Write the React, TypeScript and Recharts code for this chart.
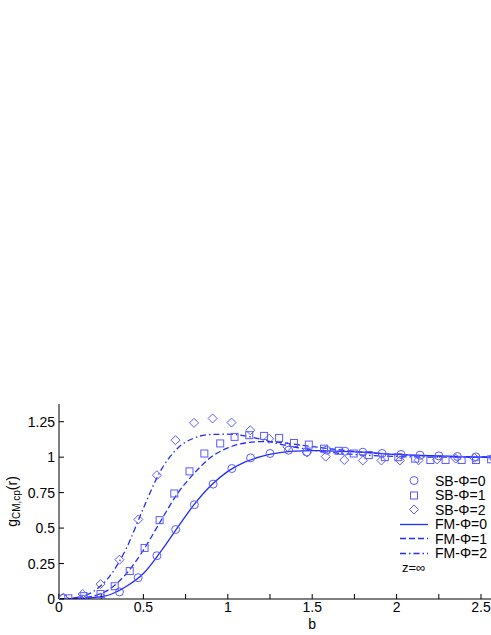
import { ComposedChart, Line, Scatter, XAxis, YAxis, Legend } from "recharts";

const FONT = '"Liberation Sans", Arial, sans-serif';
const LINE = "#1f2dff";
const MARK = "#5a5aff";

const xTicks = [0, 0.25, 0.5, 0.75, 1, 1.25, 1.5, 1.75, 2, 2.25, 2.5, 2.75, 3];
const yTicks = [0, 0.25, 0.5, 0.75, 1, 1.25];

// simulation points (SB)
const sb0B = [0.025, 0.136, 0.247, 0.358, 0.469, 0.58, 0.691, 0.802, 0.913, 1.024, 1.135, 1.25, 1.36, 1.467, 1.586, 1.694, 1.8, 1.914, 2.026, 2.139, 2.25, 2.36, 2.47, 2.58];
const sb0G = [0.005, 0, 0.012, 0.05, 0.15, 0.305, 0.49, 0.665, 0.81, 0.92, 0.995, 1.026, 1.049, 1.037, 1.049, 1.042, 1.035, 1.026, 1.019, 1.014, 1.009, 1.005, 1.002, 1.0];

const sb1B = [0.055, 0.146, 0.246, 0.33, 0.419, 0.507, 0.596, 0.683, 0.773, 0.861, 0.955, 1.04, 1.127, 1.215, 1.304, 1.392, 1.48, 1.57, 1.658, 1.746, 1.835, 1.93, 2.01, 2.11, 2.2, 2.29, 2.385, 2.47, 2.56];
const sb1G = [0.005, 0.02, 0.035, 0.09, 0.197, 0.36, 0.556, 0.744, 0.9, 1.026, 1.097, 1.143, 1.155, 1.15, 1.136, 1.1, 1.089, 1.06, 1.045, 1.026, 1.015, 1.0, 1.0, 0.99, 0.98, 0.98, 0.98, 0.98, 0.985];

const sb2B = [0.025, 0.14, 0.246, 0.358, 0.47, 0.58, 0.69, 0.8, 0.91, 1.022, 1.133, 1.245, 1.353, 1.47, 1.58, 1.69, 1.8, 1.91, 2.02, 2.13, 2.24, 2.35, 2.46, 2.57];
const sb2G = [0.01, 0.035, 0.105, 0.277, 0.561, 0.873, 1.12, 1.242, 1.273, 1.244, 1.19, 1.13, 1.073, 1.033, 1.004, 0.98, 0.977, 0.977, 0.977, 0.978, 0.984, 0.99, 0.995, 0.997];

// model curves (FM)
const fmB = [0, 0.1, 0.2, 0.3, 0.4, 0.5, 0.6, 0.7, 0.8, 0.9, 1.0, 1.1, 1.2, 1.3, 1.4, 1.5, 1.6, 1.8, 2.0, 2.2, 2.4, 2.6, 3.0];
const fm0G = [0, 0.002, 0.01, 0.03, 0.09, 0.18, 0.33, 0.5, 0.665, 0.8, 0.9, 0.965, 1.005, 1.03, 1.042, 1.046, 1.045, 1.035, 1.02, 1.01, 1.003, 1.0, 1.0];
const fm1G = [0, 0.004, 0.02, 0.07, 0.18, 0.345, 0.545, 0.74, 0.885, 1.0, 1.065, 1.1, 1.11, 1.105, 1.09, 1.075, 1.06, 1.035, 1.018, 1.008, 1.003, 1.0, 1.0];
const fm2G = [0, 0.01, 0.05, 0.16, 0.36, 0.64, 0.9, 1.06, 1.135, 1.16, 1.162, 1.15, 1.125, 1.095, 1.07, 1.05, 1.035, 1.015, 1.005, 1.0, 1.0, 1.0, 1.0];

const toPts = (bs: number[], gs: number[]) => bs.map((b, i) => ({ b, g: gs[i] }));

const circleShape = (p: any) => <circle cx={p.cx} cy={p.cy} r={4} fill="none" stroke={MARK} strokeWidth={1} />;
const squareShape = (p: any) => <rect x={p.cx - 3.5} y={p.cy - 3.5} width={7} height={7} fill="none" stroke={MARK} strokeWidth={1} />;
const diamondShape = (p: any) => (
  <polygon
    points={`${p.cx},${p.cy - 4.5} ${p.cx + 4.5},${p.cy} ${p.cx},${p.cy + 4.5} ${p.cx - 4.5},${p.cy}`}
    fill="none"
    stroke={MARK}
    strokeWidth={1}
  />
);

const legendItems = [
  { label: "SB-Φ=0", kind: "circle" },
  { label: "SB-Φ=1", kind: "square" },
  { label: "SB-Φ=2", kind: "diamond" },
  { label: "FM-Φ=0", kind: "solid" },
  { label: "FM-Φ=1", kind: "dash" },
  { label: "FM-Φ=2", kind: "dashdot" },
];

const LegendIcon = ({ kind }: { kind: string }) => {
  if (kind === "circle") return <circle cx={14} cy={7.5} r={4} fill="none" stroke={MARK} />;
  if (kind === "square") return <rect x={10.5} y={4} width={7} height={7} fill="none" stroke={MARK} />;
  if (kind === "diamond") return <polygon points="14,3 18.5,7.5 14,12 9.5,7.5" fill="none" stroke={MARK} />;
  const dash = kind === "dash" ? "6 3" : kind === "dashdot" ? "6 3 1.5 3" : undefined;
  return <line x1={0} x2={28} y1={7.5} y2={7.5} stroke={LINE} strokeWidth={1.3} strokeDasharray={dash} />;
};

const renderLegend = () => (
  <div style={{ fontFamily: FONT, fontSize: 14, color: "#000", whiteSpace: "nowrap" }}>
    {legendItems.map((it) => (
      <div key={it.label} style={{ display: "flex", alignItems: "center", height: 14.5 }}>
        <svg width={28} height={15} style={{ marginRight: 7 }}>
          <LegendIcon kind={it.kind} />
        </svg>
        <span>{it.label}</span>
      </div>
    ))}
    <div style={{ height: 14.5, display: "flex", alignItems: "center", paddingLeft: 2, fontSize: 13 }}>z=∞</div>
  </div>
);

const renderYLabel = (props: any) => {
  const vb = props.viewBox;
  const cy = vb.y + vb.height / 2;
  return (
    <text
      x={17}
      y={cy}
      transform={`rotate(-90, 17, ${cy})`}
      textAnchor="middle"
      fontFamily={FONT}
      fontSize={14}
      fill="#000"
    >
      g
      <tspan fontSize={10} dy={3}>CM,cp</tspan>
      <tspan dy={-3}>(r)</tspan>
    </text>
  );
};

const renderXLabel = (props: any) => {
  const vb = props.viewBox;
  return (
    <text x={vb.x + vb.width / 2} y={vb.y + 30} textAnchor="middle" fontFamily={FONT} fontSize={14} fill="#000">
      b
    </text>
  );
};

const xFmt = (v: number) => (v % 0.5 === 0 ? String(v) : "");

export default function App() {
  const tickStyle = { fontFamily: FONT, fontSize: 14, fill: "#000" };
  return (
    <div style={{ position: "absolute", left: 0, top: 0, width: 491, height: 635, overflow: "hidden", background: "#fff" }}>
      <ComposedChart width={580} height={635} margin={{ top: 404, right: 14.6, bottom: 0, left: 0 }}>
        <XAxis
          dataKey="b"
          type="number"
          domain={[0, 3]}
          ticks={xTicks}
          tickFormatter={xFmt}
          tickSize={-5}
          tickMargin={8}
          height={36}
          allowDataOverflow
          axisLine={{ stroke: "#000" }}
          tickLine={{ stroke: "#000" }}
          tick={tickStyle}
          interval={0}
          label={{ content: renderXLabel }}
        />
        <XAxis
          xAxisId="top"
          orientation="top"
          type="number"
          domain={[0, 3]}
          ticks={xTicks}
          tickFormatter={() => ""}
          tickSize={-5}
          height={0}
          allowDataOverflow
          axisLine={{ stroke: "#000" }}
          tickLine={{ stroke: "#000" }}
          interval={0}
        />
        <YAxis
          type="number"
          domain={[0, 1.375]}
          ticks={yTicks}
          tickSize={-5}
          tickMargin={9}
          width={59}
          allowDataOverflow
          axisLine={{ stroke: "#000" }}
          tickLine={{ stroke: "#000" }}
          tick={tickStyle}
          interval={0}
          label={{ content: renderYLabel }}
        />
        <Scatter name="SB-Φ=0" data={toPts(sb0B, sb0G)} dataKey="g" shape={circleShape} isAnimationActive={false} />
        <Scatter name="SB-Φ=1" data={toPts(sb1B, sb1G)} dataKey="g" shape={squareShape} isAnimationActive={false} />
        <Scatter name="SB-Φ=2" data={toPts(sb2B, sb2G)} dataKey="g" shape={diamondShape} isAnimationActive={false} />
        <Line name="FM-Φ=0" data={toPts(fmB, fm0G)} dataKey="g" type="monotone" stroke={LINE} strokeWidth={1.3} dot={false} isAnimationActive={false} />
        <Line name="FM-Φ=1" data={toPts(fmB, fm1G)} dataKey="g" type="monotone" stroke={LINE} strokeWidth={1.3} strokeDasharray="6 3" dot={false} isAnimationActive={false} />
        <Line name="FM-Φ=2" data={toPts(fmB, fm2G)} dataKey="g" type="monotone" stroke={LINE} strokeWidth={1.3} strokeDasharray="6 3 1.5 3" dot={false} isAnimationActive={false} />
        <Legend
          content={renderLegend}
          layout="vertical"
          align="center"
          verticalAlign="middle"
          wrapperStyle={{ left: 400, top: 473.5, width: 170 }}
        />
      </ComposedChart>
    </div>
  );
}
